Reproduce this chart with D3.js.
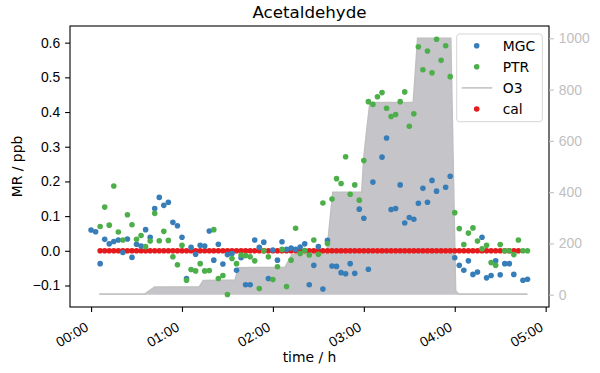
<!DOCTYPE html>
<html>
<head>
<meta charset="utf-8">
<script src="https://cdn.jsdelivr.net/npm/d3@7"></script>
<style>
  body { margin: 0; background: #fff; }
  svg { display: block; font-family: "DejaVu Sans", sans-serif; }
</style>
</head>
<body>
<div id="chart"></div>
<script>
// time in minutes after 00:00, values in ppb (MR) or ppb O3
let mgcMinutes = [0, 3, 6, 9, 12, 15, 18, 21, 24, 27, 30, 33, 36, 39, 42, 45, 48, 51, 54, 57,
    60, 63, 66, 69, 72, 75, 78, 81, 84, 87, 90, 93, 96, 99, 102, 105, 108, 111, 114, 117,
    120, 123, 126, 129, 132, 135, 138, 141, 144, 147, 150, 153, 156, 159, 162, 165, 168, 171, 174, 177,
    180, 183, 186, 192, 195, 198, 201, 204, 207, 210, 213, 216, 219, 222, 225, 228, 234, 237,
    240, 243, 246, 249, 252, 255, 258, 261, 264, 267, 270, 273, 276, 279, 285, 288]
let mgcValues = [0.060, 0.055, -0.037, 0.033, 0.020, 0.027, 0.031, -0.005, 0.034, -0.019, 0.019, 0.014, 0.061, 0.039, 0.122, 0.154, 0.131, 0.140, 0.082, 0.072,
    0.039, -0.080, 0.010, -0.010, 0.016, 0.014, 0.057, -0.027, 0.019, -0.038, -0.011, -0.008, -0.056, -0.020, -0.098, -0.098, 0.031, 0.010, 0.025, -0.080,
    0.002, -0.027, 0.026, 0.004, 0.008, 0.004, 0.011, 0.020, -0.098, -0.042, 0.012, -0.110, 0.030, -0.044, -0.045, -0.063, -0.066, -0.037, -0.065, 0.120,
    0.094, -0.053, 0.198, 0.270, 0.325, 0.119, 0.122, 0.190, 0.080, 0.096, 0.091, 0.137, 0.180, 0.140, 0.203, 0.172, 0.183, 0.215,
    -0.020, -0.042, -0.056, -0.029, -0.068, -0.061, 0.039, -0.078, -0.071, -0.029, -0.069, -0.037, -0.037, -0.068, -0.085, -0.082]

let ptrMinutes = [6, 9, 12, 15, 18, 21, 24, 27, 30, 33, 36, 39, 42, 45, 48, 51, 54, 57,
    60, 63, 66, 69, 72, 75, 78, 81, 84, 87, 90, 93, 96, 99, 102, 105, 108, 111, 114, 117,
    120, 123, 126, 129, 132, 135, 138, 141, 144, 147, 150, 153, 156, 159, 162, 165, 168, 171, 174, 177,
    180, 183, 186, 189, 192, 195, 198, 201, 204, 207, 210, 213, 216, 219, 222, 225, 228, 231, 234, 237,
    240, 243, 246, 249, 252, 255, 258, 261, 264, 267, 270, 273, 276, 279, 282, 285, 288]
let ptrValues = [0.070, 0.126, 0.074, 0.187, 0.054, 0.031, 0.104, 0.075, 0.033, 0.044, 0.012, 0.028, 0.108, 0.029, 0.056, 0.030, -0.017, -0.040,
    0.016, -0.085, -0.054, -0.058, -0.037, -0.058, -0.057, 0.061, -0.080, -0.071, -0.126, -0.022, -0.037, -0.012, -0.014, -0.017, -0.029, -0.109, 0.000, -0.017,
    -0.083, -0.046, 0.004, -0.103, -0.027, 0.065, -0.008, 0.001, -0.012, 0.031, -0.010, 0.138, 0.021, 0.149, 0.208, 0.194, 0.271, 0.163, 0.190, 0.146,
    0.260, 0.430, 0.422, 0.444, 0.456, 0.411, 0.387, 0.393, 0.430, 0.458, 0.359, 0.395, 0.588, 0.522, 0.576, 0.513, 0.610, 0.549, 0.591, 0.502,
    0.110, 0.064, 0.018, 0.051, 0.066, 0.028, 0.006, 0.016, -0.034, -0.042, 0.018, 0.000, 0.000, -0.011, 0.031, 0.000, 0.000]

let calMinutes = [6, 9, 12, 15, 18, 21, 24, 27, 30, 33, 36, 39, 42, 45, 48, 51, 54, 57,
    60, 63, 66, 69, 72, 75, 78, 81, 84, 87, 90, 93, 96, 99, 102, 105, 108, 111, 114, 117,
    120, 123, 126, 129, 132, 135, 138, 141, 144, 147, 150, 153, 156, 159, 162, 165, 168, 171, 174, 177,
    180, 183, 186, 189, 192, 195, 198, 201, 204, 207, 210, 213, 216, 219, 222, 225, 228, 231, 234, 237,
    240, 243, 246, 249, 252, 255, 258, 261, 264, 267, 270, 273, 276, 279, 282]
let calValue = 0

let o3Minutes = [5.4, 35.6, 42, 71.5, 74, 95, 97, 128, 132.5, 155.5, 159.5, 178.6, 180, 182.4, 184, 212.6, 215.5, 237.4, 240.6, 242.5, 288]
let o3Values = [3, 3, 30, 31, 55, 57, 105, 107, 157, 160, 400, 400, 537, 667, 750, 750, 1000, 1000, 15, 3, 3]

let xTicks = [0, 60, 120, 180, 240, 300]
let yTicks = [-0.1, 0.0, 0.1, 0.2, 0.3, 0.4, 0.5, 0.6]
let y2Ticks = [0, 200, 400, 600, 800, 1000]
let legendNames = ["MGC", "PTR", "O3", "cal"]

let colMGC = "#377eb8", colPTR = "#4daf4a", colCal = "#e41a1c"
let colO3Fill = "#c5c4c9", colO3Line = "#c0c0c0", colRight = "#c0c0c0"

let width = 600, height = 373
let margin = {top: 26, right: 51, bottom: 66, left: 70}
let fs = 13.9

let svg = d3.select("#chart").append("svg")
    .attr("width", width)
    .attr("height", height)

let x = d3.scaleLinear().domain([-13.9, 302.2]).range([margin.left, width - margin.right])
let y = d3.scaleLinear().domain([-0.162, 0.648]).range([height - margin.bottom, margin.top])
let y2 = d3.scaleLinear().domain([-48, 1048]).range([height - margin.bottom, margin.top])

// O3 area + line (behind the points)
let o3 = o3Minutes.map((m, i) => ({m: m, v: o3Values[i]}))
svg.append("path")
    .datum(o3)
    .attr("fill", colO3Fill)
    .attr("d", d3.area().x(d => x(d.m)).y0(y2(0)).y1(d => y2(d.v)))
svg.append("path")
    .datum(o3)
    .attr("fill", "none")
    .attr("stroke", colO3Line)
    .attr("stroke-width", 1.5)
    .attr("d", d3.line().x(d => x(d.m)).y(d => y2(d.v)))

let r = 2.8
svg.append("g").selectAll("circle")
    .data(calMinutes)
    .enter().append("circle")
    .attr("cx", d => x(d))
    .attr("cy", y(calValue))
    .attr("r", r)
    .attr("fill", colCal)

svg.append("g").selectAll("circle")
    .data(mgcMinutes)
    .enter().append("circle")
    .attr("cx", d => x(d))
    .attr("cy", (d, i) => y(mgcValues[i]))
    .attr("r", r)
    .attr("fill", colMGC)

svg.append("g").selectAll("circle")
    .data(ptrMinutes)
    .enter().append("circle")
    .attr("cx", d => x(d))
    .attr("cy", (d, i) => y(ptrValues[i]))
    .attr("r", r)
    .attr("fill", colPTR)

// frame
svg.append("rect")
    .attr("x", margin.left).attr("y", margin.top)
    .attr("width", width - margin.left - margin.right)
    .attr("height", height - margin.top - margin.bottom)
    .attr("fill", "none").attr("stroke", "#000").attr("stroke-width", 1.1)

// axes
let fmtTime = m => String(Math.floor(m / 60)).padStart(2, "0") + ":" + String(m % 60).padStart(2, "0")

let gx = svg.append("g")
    .attr("transform", `translate(0,${height - margin.bottom})`)
    .call(d3.axisBottom(x).tickValues(xTicks).tickFormat(fmtTime).tickSize(4.9))
gx.select(".domain").remove()
gx.selectAll("line").attr("stroke-width", 1.1)
gx.selectAll("text")
    .attr("font-size", fs)
    .attr("fill", "#000")
    .attr("text-anchor", "end")
    .attr("dy", null)
    .attr("y", 0)
    .attr("transform", "translate(-2,23) rotate(-30)")

let gy = svg.append("g")
    .attr("transform", `translate(${margin.left},0)`)
    .call(d3.axisLeft(y).tickValues(yTicks).tickFormat(d3.format(".1f")).tickSize(4.9).tickPadding(4.9))
gy.select(".domain").remove()
gy.selectAll("line").attr("stroke-width", 1.1)
gy.selectAll("text").attr("font-size", fs).attr("fill", "#000")

let gy2 = svg.append("g")
    .attr("transform", `translate(${width - margin.right},0)`)
    .call(d3.axisRight(y2).tickValues(y2Ticks).tickFormat(d3.format("d")).tickSize(4.9).tickPadding(4.9))
gy2.select(".domain").remove()
gy2.selectAll("line").attr("stroke", colRight).attr("stroke-width", 1.1)
gy2.selectAll("text").attr("font-size", fs).attr("fill", colRight)

// labels
svg.append("text")
    .attr("x", (margin.left + width - margin.right) / 2).attr("y", 18)
    .attr("text-anchor", "middle").attr("font-size", 16.7)
    .text("Acetaldehyde")
svg.append("text")
    .attr("x", (margin.left + width - margin.right) / 2).attr("y", 362)
    .attr("text-anchor", "middle").attr("font-size", fs)
    .text("time / h")
svg.append("text")
    .attr("transform", `translate(22,${(margin.top + height - margin.bottom) / 2}) rotate(-90)`)
    .attr("text-anchor", "middle").attr("font-size", fs)
    .text("MR / ppb")

// legend
let lg = svg.append("g").attr("transform", "translate(456.7,34)")
lg.append("rect")
    .attr("width", 85.6).attr("height", 87.7).attr("rx", 3)
    .attr("fill", "#fff").attr("fill-opacity", 0.8)
    .attr("stroke", "#d6d6d6").attr("stroke-width", 1)
let legendColors = [colMGC, colPTR, colO3Line, colCal]
legendNames.forEach((name, i) => {
    let ly = 11.7 + i * 21.1
    if (name === "O3") {
        lg.append("line").attr("x1", 5).attr("x2", 35.6).attr("y1", ly).attr("y2", ly)
            .attr("stroke", legendColors[i]).attr("stroke-width", 1.5)
    } else {
        lg.append("circle").attr("cx", 20).attr("cy", ly).attr("r", r).attr("fill", legendColors[i])
    }
    lg.append("text").attr("x", 46).attr("y", ly).attr("dy", "0.36em")
        .attr("font-size", fs).text(name)
})
</script>
</body>
</html>
